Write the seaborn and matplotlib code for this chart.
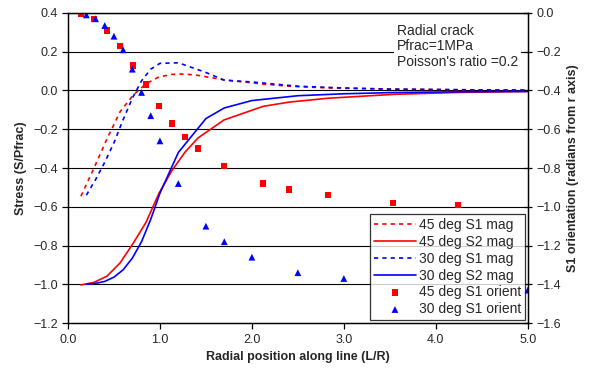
import matplotlib
matplotlib.use("Agg")
import matplotlib.pyplot as plt
import seaborn as sns

# 45 deg line samples (x = L/R)
x45 = [0.141, 0.283, 0.424, 0.566, 0.707, 0.849, 0.990, 1.131, 1.273, 1.414,
       1.697, 2.121, 2.404, 2.828, 3.536, 4.243, 5.0]
s1_45 = [-0.545, -0.40, -0.25, -0.11, -0.025, 0.035, 0.07, 0.083, 0.085, 0.078,
         0.055, 0.033, 0.022, 0.013, 0.007, 0.004, 0.002]
s2_45 = [-1.003, -0.99, -0.958, -0.89, -0.79, -0.68, -0.53, -0.413, -0.318, -0.245,
         -0.152, -0.082, -0.06, -0.04, -0.02, -0.01, -0.005]

# 30 deg line samples
x30 = [0.2, 0.3, 0.4, 0.5, 0.6, 0.7, 0.8, 0.9, 1.0, 1.2, 1.5, 1.7, 2.0,
       2.5, 3.0, 3.5, 4.0, 4.5, 5.0]
s1_30 = [-0.54, -0.46, -0.37, -0.27, -0.15, -0.04, 0.05, 0.11, 0.14, 0.143,
         0.093, 0.053, 0.044, 0.022, 0.013, 0.007, 0.005, 0.003, 0.002]
s2_30 = [-1.0, -0.995, -0.985, -0.963, -0.925, -0.865, -0.78, -0.665, -0.53, -0.32,
         -0.145, -0.09, -0.052, -0.027, -0.017, -0.011, -0.008, -0.006, -0.005]

# S1 orientation (right axis, radians)
xo45 = x45[:16]
orient45 = [-0.005, -0.03, -0.09, -0.17, -0.27, -0.37, -0.48, -0.57, -0.64, -0.70,
            -0.79, -0.88, -0.91, -0.94, -0.98, -0.99]
xo30 = [0.2, 0.3, 0.4, 0.5, 0.6, 0.7, 0.8, 0.9, 1.0, 1.2, 1.5, 1.7, 2.0, 2.5, 3.0, 5.0]
orient30 = [-0.01, -0.03, -0.065, -0.12, -0.19, -0.29, -0.41, -0.53, -0.66, -0.88,
            -1.10, -1.18, -1.26, -1.34, -1.37, -1.43]

sns.set_style("white")
plt.rcParams["font.family"] = ["Liberation Sans", "DejaVu Sans"]

fig, ax = plt.subplots(figsize=(5.91, 3.81), dpi=100)
fig.subplots_adjust(left=0.115, right=0.893, top=0.966, bottom=0.152)

ax.set_ylim(-1.2, 0.4)
ax.set_xlim(0, 5.0)
ax.set_yticks([-1.2, -1.0, -0.8, -0.6, -0.4, -0.2, 0.0, 0.2, 0.4])
ax.set_xticks([0, 1, 2, 3, 4, 5])
ax.set_xticklabels(["0.0", "1.0", "2.0", "3.0", "4.0", "5.0"])
for yv in [-1.0, -0.8, -0.6, -0.4, -0.2, 0.0, 0.2, 0.4]:
    ax.axhline(yv, color="black", lw=0.8, zorder=0)

sns.lineplot(x=x45, y=s1_45, ax=ax, color="red", lw=1.2, linestyle=(0, (2.5, 2.5)),
             label="45 deg S1 mag")
sns.lineplot(x=x45, y=s2_45, ax=ax, color="red", lw=1.2, label="45 deg S2 mag")
sns.lineplot(x=x30, y=s1_30, ax=ax, color="blue", lw=1.2, linestyle=(0, (2.5, 2.5)),
             label="30 deg S1 mag")
sns.lineplot(x=x30, y=s2_30, ax=ax, color="blue", lw=1.2, label="30 deg S2 mag")

ax2 = ax.twinx()
ax2.set_ylim(-1.6, 0.0)
ax2.set_yticks([-1.6, -1.4, -1.2, -1.0, -0.8, -0.6, -0.4, -0.2, 0.0])
sns.scatterplot(x=xo45, y=orient45, ax=ax2, color="red", marker="s", s=22,
                edgecolor="none", label="45 deg S1 orient")
sns.scatterplot(x=xo30, y=orient30, ax=ax2, color="blue", marker="^", s=24,
                edgecolor="none", label="30 deg S1 orient")

for a in (ax, ax2):
    for sp in a.spines.values():
        sp.set_color("black")
        sp.set_linewidth(0.9)
    a.tick_params(axis="both", direction="out", length=4, width=0.9,
                  labelsize=9, color="black")
ax.tick_params(axis="x", direction="out", bottom=True)
ax.tick_params(axis="y", left=True)
ax2.tick_params(axis="y", direction="inout", right=True, length=6)

ax.set_xlabel("Radial position along line (L/R)", fontsize=9, fontweight="bold")
ax.set_ylabel("Stress (S/Pfrac)", fontsize=9, fontweight="bold")
ax2.set_ylabel("S1 orientation (radians from r axis)", fontsize=9, fontweight="bold")

ax.text(0.715, 0.965, "Radial crack\nPfrac=1MPa\nPoisson's ratio =0.2",
        transform=ax.transAxes, va="top", ha="left", fontsize=10, linespacing=1.15,
        bbox=dict(facecolor="white", edgecolor="none", pad=2), zorder=5)

h1, l1 = ax.get_legend_handles_labels()
h2, l2 = ax2.get_legend_handles_labels()
ax.get_legend().remove()
ax2.get_legend().remove()
leg = ax2.legend(h1 + h2, l1 + l2, loc="lower right", bbox_to_anchor=(1.0, 0.0),
                 fontsize=10, frameon=True, fancybox=False, edgecolor="black",
                 handlelength=3.0, borderpad=0.3, labelspacing=0.2, handletextpad=0.2,
                 borderaxespad=0.2)
leg.get_frame().set_linewidth(0.9)

fig.savefig("out.png", dpi=100)
